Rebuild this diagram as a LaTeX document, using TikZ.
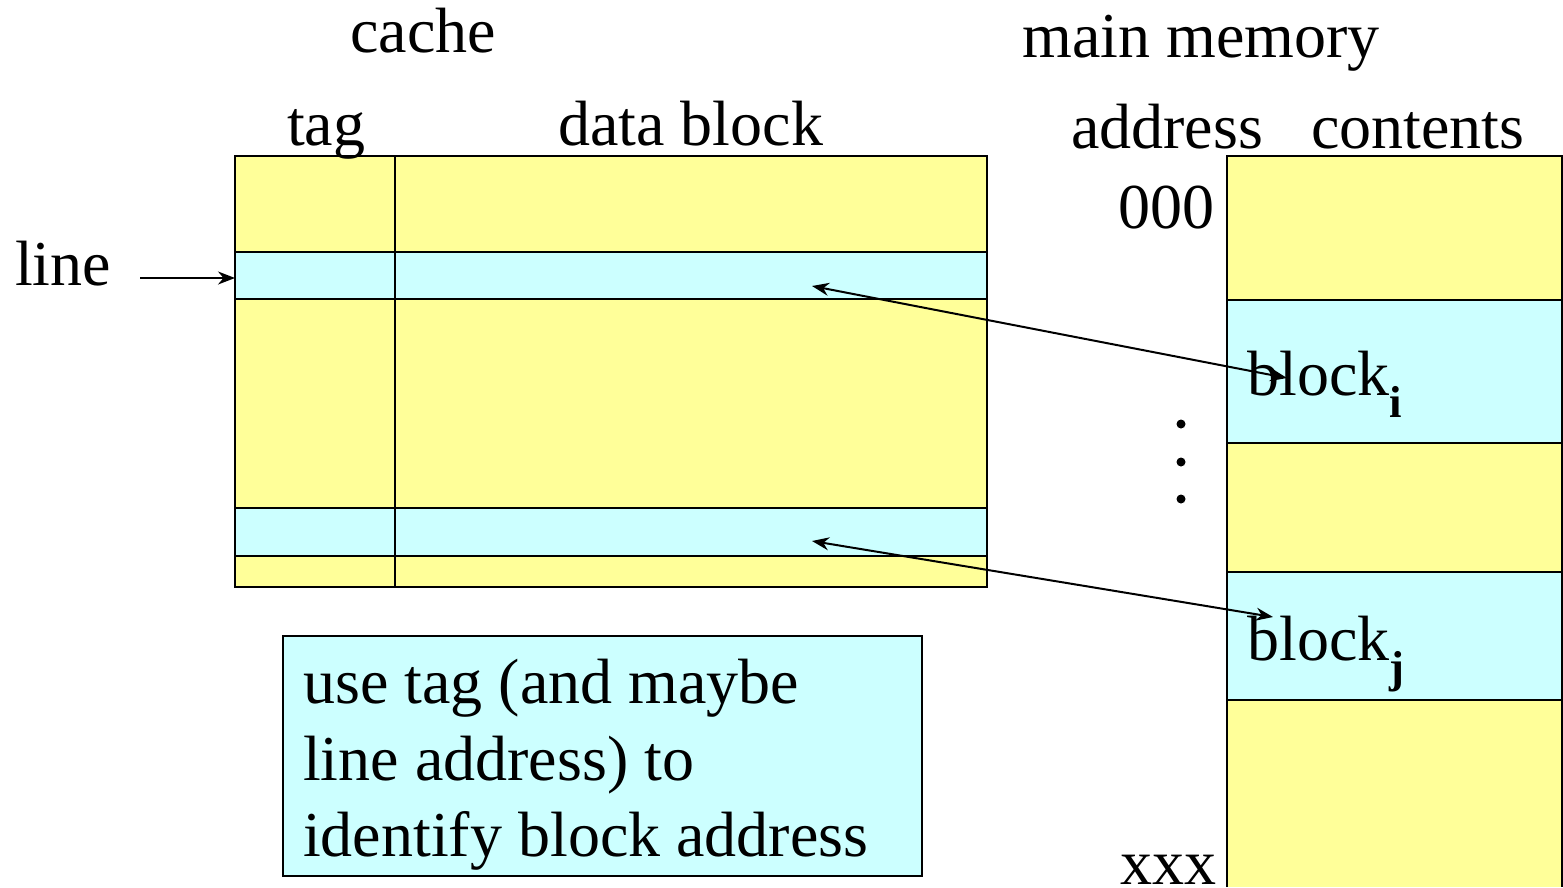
\documentclass[tikz,border=0pt]{standalone}
\usepackage{fontspec}
\setmainfont{Liberation Serif}
\usetikzlibrary{arrows.meta}
\definecolor{yel}{HTML}{FFFF99}
\definecolor{cya}{HTML}{CCFFFF}
\begin{document}
\begin{tikzpicture}[x=1pt,y=-1pt,
  lbl/.style={inner sep=0pt, anchor=base west, font=\fontsize{64}{76}\selectfont},
  cell/.style={draw=black, line width=2pt, inner sep=0pt, outer sep=0pt, anchor=north west},
  link/.style={line width=2pt, {Stealth[length=17pt,width=13pt]}-{Stealth[length=17pt,width=13pt]}},
  pointer/.style={line width=2pt, -{Stealth[length=17pt,width=13pt]}}]
\useasboundingbox (0,0) rectangle (1563,887);

% cache: tag column + data block column
\node[cell, fill=yel, minimum width=752pt, minimum height=431pt] (cache) at (235,156) {};
\node[cell, fill=cya, minimum width=752pt, minimum height=47pt] (lineA) at (235,252) {};
\node[cell, fill=cya, minimum width=752pt, minimum height=48pt] (lineB) at (235,508) {};
\draw[line width=2pt] (395,156) -- (395,587);
\draw[line width=2pt] (235,156) rectangle (987,587);

% main memory
\fill[yel] (1227,156) rectangle (1562,887);
\node[cell, fill=cya, minimum width=335pt, minimum height=143pt] (blki) at (1227,300) {};
\node[cell, fill=cya, minimum width=335pt, minimum height=128pt] (blkj) at (1227,572) {};
\draw[line width=2pt] (1227,887) -- (1227,156) -- (1562,156) -- (1562,887);

% headings
\node[lbl] (hcache) at (350,52) {cache};
\node[lbl] (hmem) at (1022,57) {main memory};
\node[lbl] (htag) at (287,145) {tag};
\node[lbl] (hdata) at (558,145) {data block};
\node[lbl] (haddr) at (1071,148) {address};
\node[lbl] (hcont) at (1311,148) {contents};
\node[lbl] (a0) at (1118,228) {000};
\node[lbl] (ax) at (1120,884) {xxx};
\node[lbl] (lname) at (15,285) {line};

% memory block labels
\node[lbl] (bi) at (1247,395) {block\textsubscript{\textbf{i}}};
\node[lbl] (bj) at (1247,660) {block\textsubscript{\textbf{j}}};

% vertical ellipsis
\foreach \yy in {424,462,499} \fill (1181,\yy) circle (4.5pt);

% pointers and mappings
\coordinate (lstart) at (140,278);
\coordinate (ci) at (812,286);
\coordinate (mi) at (1287,378);
\coordinate (cj) at (812,541);
\coordinate (mj) at (1273,617);
\draw[pointer] (lstart) -- (lineA.west |- lstart);
\draw[link] (ci) -- (mi);
\draw[link] (cj) -- (mj);

% note
\node[cell, fill=cya, minimum width=639pt, minimum height=240pt] (note) at (283,636) {};
\node[lbl] (n1) at (303,703) {use tag (and maybe};
\node[lbl] (n2) at (303,780) {line address) to};
\node[lbl] (n3) at (303,856) {identify block address};
\end{tikzpicture}
\end{document}
